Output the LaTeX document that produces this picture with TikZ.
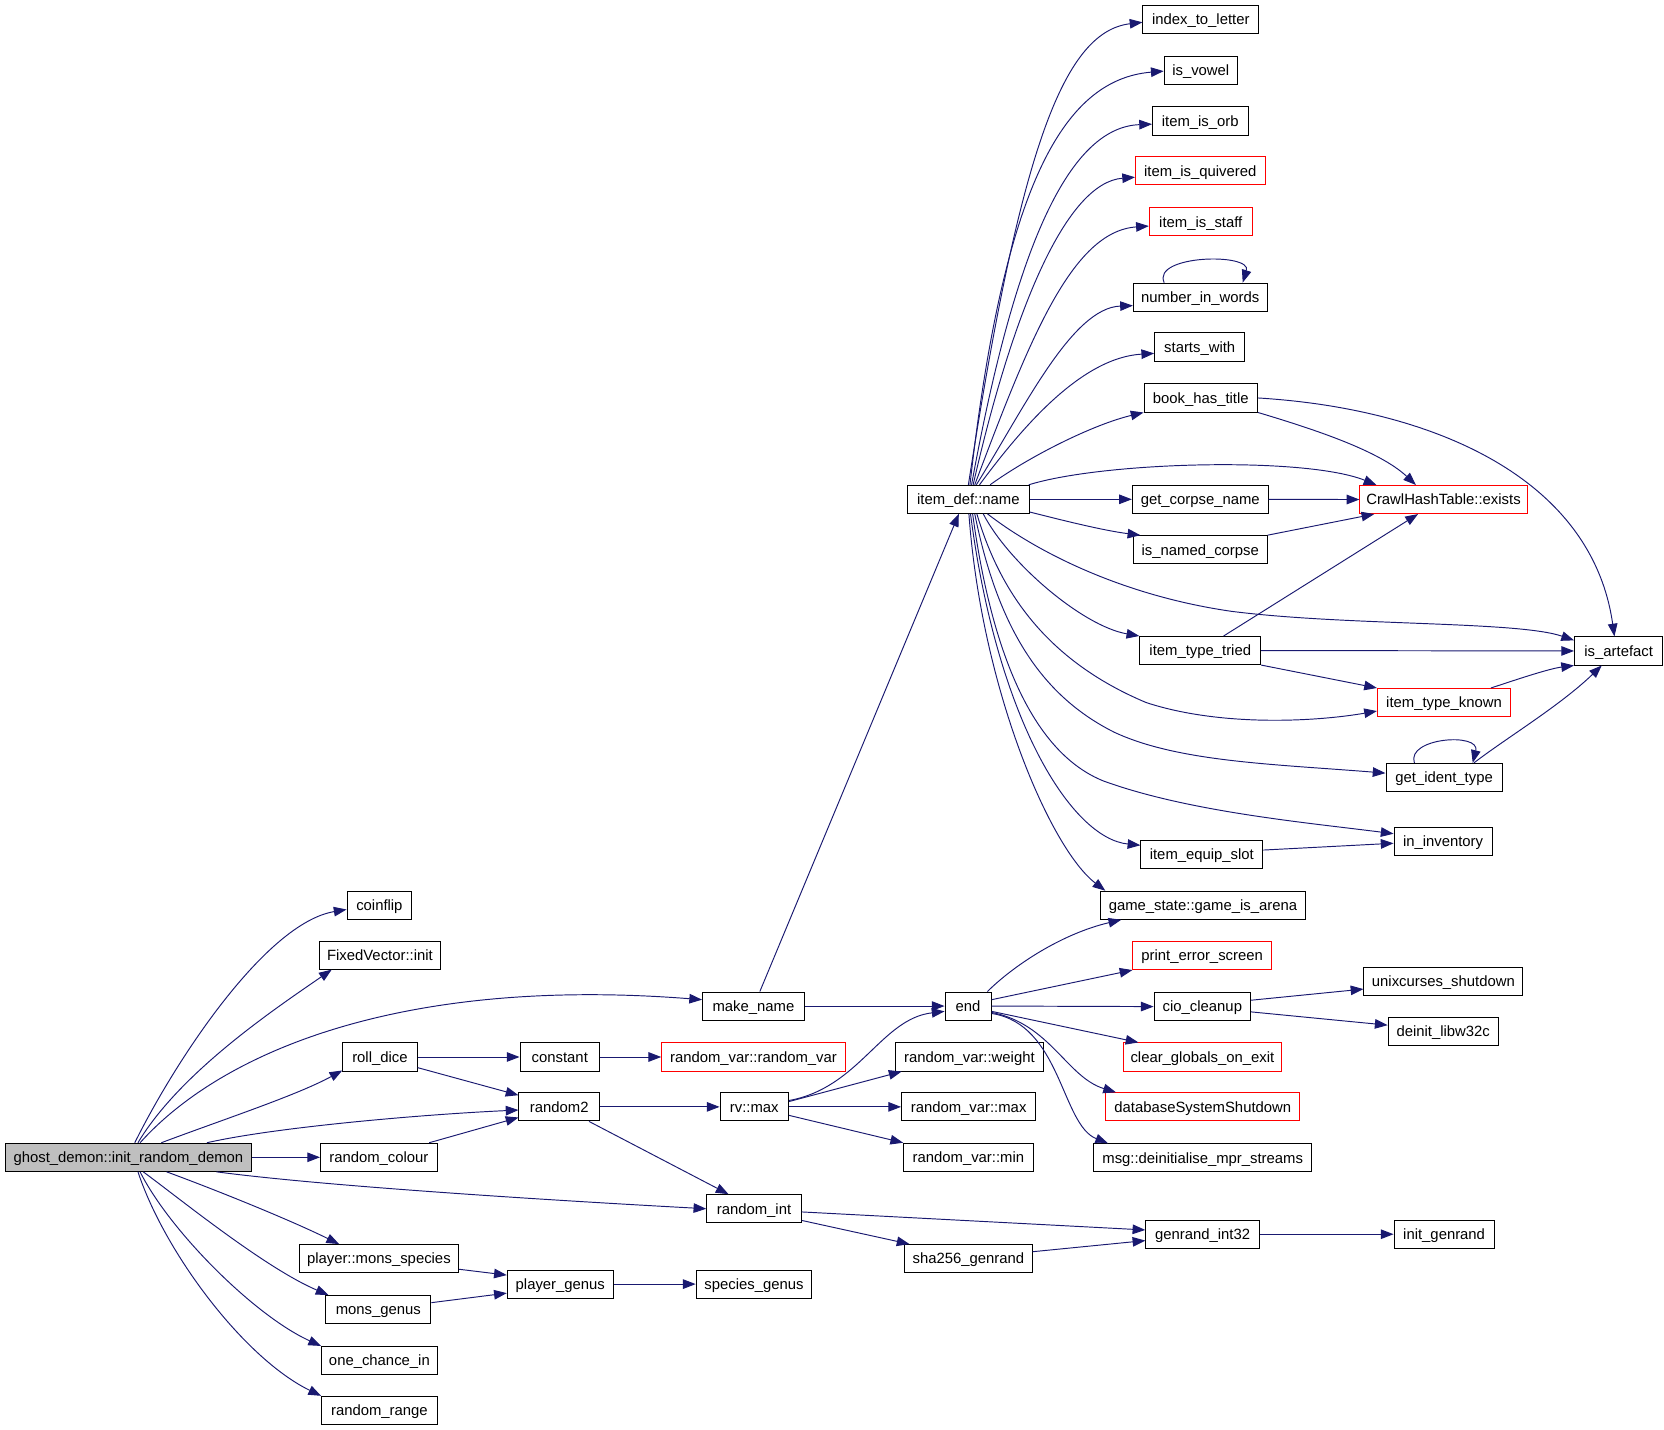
\documentclass[tikz,border=0pt]{standalone}
\usepackage{fontspec}
\setmainfont{Liberation Sans}
\usetikzlibrary{arrows.meta,positioning}
\definecolor{callblue}{RGB}{25,25,112}
\definecolor{rootgray}{RGB}{191,191,191}

\begin{document}
\begin{tikzpicture}[x=1pt, y=-1pt,
    fn/.style={draw=black, line width=0.9pt, rectangle, inner sep=0pt, minimum height=26.5pt,
        text height=11pt, text depth=1pt, font=\fontsize{14}{16}\selectfont},
    fnred/.style={fn, draw=red},
    fnroot/.style={fn, fill=rootgray},
    call/.style={draw=callblue, line width=0.9pt, -{Triangle[length=12pt,width=9pt]}}]
            \useasboundingbox (0,0) rectangle (1568,1347);

            % Caller
            \node[fnroot, minimum width=232pt] (ghost) at (121,1090.5) {ghost\_demon::init\_random\_demon};

            % Functions, first column
            \node[fn, minimum width=61pt] (coinflip) at (357.5,853) {coinflip};
            \node[fn, minimum width=114pt] (fvinit) at (358,900) {FixedVector::init};
            \node[fn, minimum width=70pt] (rolldice) at (358,996) {roll\_dice};
            \node[fn, minimum width=110pt] (randcolour) at (357,1090.5) {random\_colour};
            \node[fn, minimum width=150pt] (monsspecies) at (357,1186) {player::mons\_species};
            \node[fn, minimum width=99pt] (monsgenus) at (356.5,1234) {mons\_genus};
            \node[fn, minimum width=109pt] (onechance) at (357.5,1282) {one\_chance\_in};
            \node[fn, minimum width=109pt] (randrange) at (357.5,1329) {random\_range};

            % Functions, second and third column
            \node[fn, minimum width=75pt] (constant) at (527.5,996) {constant};
            \node[fn, minimum width=76pt] (random2) at (527,1043) {random2};
            \node[fn, minimum width=100pt] (playergenus) at (528,1210) {player\_genus};
            \node[fn, minimum width=96pt] (makename) at (710,948) {make\_name};
            \node[fnred, minimum width=173pt] (rvrandomvar) at (710,996) {random\_var::random\_var};
            \node[fn, minimum width=64.5pt] (rvmax) at (710.75,1043) {rv::max};
            \node[fn, minimum width=89pt] (randint) at (710.5,1139) {random\_int};
            \node[fn, minimum width=109pt] (speciesgenus) at (710.5,1210) {species\_genus};

            % Functions, fourth column
            \node[fn, minimum width=115pt] (itemdef) at (912.5,470.5) {item\_def::name};
            \node[fn, minimum width=43.5pt] (endfn) at (912.25,948) {end};
            \node[fn, minimum width=139pt] (rvweight) at (913.5,996) {random\_var::weight};
            \node[fn, minimum width=126.5pt] (rvmaxvar) at (912.75,1043) {random\_var::max};
            \node[fn, minimum width=122pt] (rvmin) at (912.5,1090.5) {random\_var::min};
            \node[fn, minimum width=120pt] (sha) at (912.5,1186) {sha256\_genrand};

            % Functions, fifth column
            \node[fn, minimum width=109pt] (indexletter) at (1131.5,18) {index\_to\_letter};
            \node[fn, minimum width=69pt] (isvowel) at (1131.5,66) {is\_vowel};
            \node[fn, minimum width=90pt] (isorb) at (1131,114) {item\_is\_orb};
            \node[fnred, minimum width=122pt] (isquiv) at (1131,161) {item\_is\_quivered};
            \node[fnred, minimum width=97pt] (isstaff) at (1131.5,209) {item\_is\_staff};
            \node[fn, minimum width=126pt] (numwords) at (1131,280) {number\_in\_words};
            \node[fn, minimum width=85pt] (startswith) at (1130.5,327) {starts\_with};
            \node[fn, minimum width=107pt] (booktitle) at (1131.5,375) {book\_has\_title};
            \node[fn, minimum width=128pt] (corpsename) at (1131,470.5) {get\_corpse\_name};
            \node[fn, minimum width=126pt] (namedcorpse) at (1131,518) {is\_named\_corpse};
            \node[fn, minimum width=114pt] (typetried) at (1131,613) {item\_type\_tried};
            \node[fn, minimum width=115pt] (equipslot) at (1132.5,805) {item\_equip\_slot};
            \node[fn, minimum width=193pt] (arena) at (1133.5,853) {game\_state::game\_is\_arena};
            \node[fnred, minimum width=130.5pt] (errscreen) at (1132.8,900.4) {print\_error\_screen};
            \node[fn, minimum width=91pt] (ciocleanup) at (1133,948.5) {cio\_cleanup};
            \node[fnred, minimum width=149.6pt] (clearglobals) at (1133,996) {clear\_globals\_on\_exit};
            \node[fnred, minimum width=182.7pt] (dbshutdown) at (1133.4,1043) {databaseSystemShutdown};
            \node[fn, minimum width=205.5pt] (mprstreams) at (1133.3,1091) {msg::deinitialise\_mpr\_streams};
            \node[fn, minimum width=107pt] (genrand) at (1133.2,1163) {genrand\_int32};

            % Functions, sixth and seventh column
            \node[fnred, minimum width=157.5pt] (crawlexists) at (1360.2,470.7) {CrawlHashTable::exists};
            \node[fnred, minimum width=125.5pt] (typeknown) at (1360.7,662) {item\_type\_known};
            \node[fn, minimum width=109.5pt] (identtype) at (1360.75,732.5) {get\_ident\_type};
            \node[fn, minimum width=92.4pt] (ininv) at (1359.8,792.6) {in\_inventory};
            \node[fn, minimum width=149.8pt] (unixshut) at (1360.1,925) {unixcurses\_shutdown};
            \node[fn, minimum width=104pt] (deinitw32) at (1360,972) {deinit\_libw32c};
            \node[fn, minimum width=94.4pt] (initgenrand) at (1360.8,1163) {init\_genrand};
            \node[fn, minimum width=83.3pt] (artefact) at (1525.3,613.4) {is\_artefact};

            % Calls from ghost_demon::init_random_demon
            \draw[call] ([xshift=6pt]ghost.north) .. controls (165,1000) and (250,870) .. ([yshift=-4pt]coinflip.west);
            \draw[call] ([xshift=9pt]ghost.north) .. controls (170,1010) and (260,950) .. ([xshift=12pt]fvinit.south west);
            \draw[call] ([xshift=11pt]ghost.north) .. controls (210,990) and (380,920) .. ([yshift=6pt]makename.west);
            \draw[call] ([xshift=31pt]ghost.north) .. controls (210,1055) and (280,1032) .. ([yshift=1pt]rolldice.south west);
            \draw[call] ([xshift=74pt]ghost.north) .. controls (260,1062) and (400,1050) .. ([yshift=-3pt]random2.west);
            \draw[call] (ghost.east) -- (randcolour.west);
            \draw[call] ([xshift=83pt]ghost.south) .. controls (300,1117) and (500,1130) .. (randint.west);
            \draw[call] ([xshift=36pt]ghost.south) .. controls (200,1120) and (270,1148) .. ([xshift=38pt]monsspecies.north west);
            \draw[call] ([xshift=14pt]ghost.south) .. controls (170,1130) and (250,1195) .. ([xshift=3pt]monsgenus.north west);
            \draw[call] ([xshift=11pt]ghost.south) .. controls (160,1160) and (240,1240) .. (onechance.north west);
            \draw[call] ([xshift=9pt]ghost.south) .. controls (155,1180) and (230,1280) .. (randrange.north west);

            % Calls, second and third level
            \draw[call] (rolldice.east) -- (constant.west);
            \draw[call] ([yshift=-10pt]rolldice.east) -- ([yshift=11pt]random2.west);
            \draw[call] ([xshift=-8pt]randcolour.north east) -- ([yshift=-10pt]random2.west);
            \draw[call] (constant.east) -- (rvrandomvar.west);
            \draw[call] (random2.east) -- (rvmax.west);
            \draw[call] ([xshift=28pt]random2.south) -- ([xshift=-24pt]randint.north);
            \draw[call] ([yshift=-10pt]monsspecies.east) -- ([yshift=8.5pt]playergenus.west);
            \draw[call] ([yshift=6.5pt]monsgenus.east) -- ([yshift=-8.5pt]playergenus.west);
            \draw[call] (playergenus.east) -- (speciesgenus.west);
            \draw[call] ([xshift=6pt]makename.north) -- ([xshift=-9pt]itemdef.south);
            \draw[call] (makename.east) -- (endfn.west);
            \draw[call] ([yshift=6pt]rvmax.east) .. controls (810,1025) and (830,960) .. ([yshift=-5pt]endfn.west);
            \draw[call] ([yshift=5pt]rvmax.east) -- ([xshift=6pt]rvweight.south west);
            \draw[call] (rvmax.east) -- (rvmaxvar.west);
            \draw[call] ([yshift=-8pt]rvmax.east) -- (rvmin.north west);
            \draw[call] ([yshift=-3pt]randint.east) -- ([yshift=4pt]genrand.west);
            \draw[call] ([yshift=-11pt]randint.east) -- ([xshift=5pt]sha.north west);
            \draw[call] ([yshift=6.5pt]sha.east) -- ([yshift=-6pt]genrand.west);
            \draw[call] (genrand.east) -- (initgenrand.west);

            % Calls from end
            \draw[call] ([xshift=-4pt]endfn.north east) .. controls (955,910) and (1000,880) .. ([xshift=20pt]arena.south west);
            \draw[call] ([yshift=6pt]endfn.east) -- (errscreen.south west);
            \draw[call] (endfn.east) -- (ciocleanup.west);
            \draw[call] ([yshift=-5pt]endfn.east) -- ([xshift=15pt]clearglobals.north west);
            \draw[call] ([yshift=-6pt]endfn.east) .. controls (990,965) and (1005,1015) .. ([xshift=10pt]dbshutdown.north west);
            \draw[call] ([yshift=-7pt]endfn.east) .. controls (1000,965) and (1000,1060) .. ([xshift=14pt]mprstreams.north west);
            \draw[call] ([yshift=6pt]ciocleanup.east) -- ([yshift=-7pt]unixshut.west);
            \draw[call] ([yshift=-5pt]ciocleanup.east) -- ([yshift=6pt]deinitw32.west);

            % Calls from item_def::name
            \draw[call] (itemdef.north) .. controls (960,150) and (1000,30) .. ([yshift=-3pt]indexletter.west);
            \draw[call] ([xshift=1.5pt]itemdef.north) .. controls (945,180) and (1000,75) .. ([yshift=-1pt]isvowel.west);
            \draw[call] ([xshift=3pt]itemdef.north) .. controls (955,240) and (1005,120) .. ([yshift=-3pt]isorb.west);
            \draw[call] ([xshift=4.5pt]itemdef.north) .. controls (955,290) and (1005,172) .. ([yshift=-6pt]isquiv.west);
            \draw[call] ([xshift=6pt]itemdef.north) .. controls (970,320) and (1010,218) .. ([yshift=-4pt]isstaff.west);
            \draw[call] ([xshift=7.5pt]itemdef.north) .. controls (965,385) and (1010,290) .. ([yshift=-8pt]numwords.west);
            \draw[call] ([xshift=10.5pt]itemdef.north) .. controls (965,400) and (1020,337) .. ([yshift=-6pt]startswith.west);
            \draw[call] ([xshift=20.5pt]itemdef.north) .. controls (970,430) and (1030,400) .. (booktitle.south west);
            \draw[call] ([xshift=-1pt]itemdef.north east) .. controls (1040,435) and (1230,430) .. ([xshift=16pt]crawlexists.north west);
            \draw[call] (itemdef.east) -- (corpsename.west);
            \draw[call] ([yshift=-12pt]itemdef.east) .. controls (1000,490) and (1040,500) .. ([xshift=7pt]namedcorpse.north west);
            \draw[call] ([xshift=18pt]itemdef.south) .. controls (970,515) and (1050,560) .. (1160,576)
                .. controls (1270,590) and (1430,585) .. ([yshift=10pt]artefact.west);
            \draw[call] ([xshift=14pt]itemdef.south) .. controls (950,530) and (1020,590) .. (typetried.north west);
            \draw[call] ([xshift=8pt]itemdef.south) .. controls (940,550) and (980,620) .. (1080,662)
                .. controls (1150,685) and (1240,680) .. ([yshift=-8pt]typeknown.west);
            \draw[call] ([xshift=6pt]itemdef.south) .. controls (940,590) and (980,655) .. (1050,690)
                .. controls (1110,718) and (1200,720) .. ([yshift=4pt]identtype.west);
            \draw[call] ([xshift=4pt]itemdef.south) .. controls (935,620) and (975,710) .. (1040,736)
                .. controls (1120,765) and (1230,775) .. ([yshift=7pt]ininv.west);
            \draw[call] ([xshift=2pt]itemdef.south) .. controls (940,680) and (1010,790) .. ([yshift=8.5pt]equipslot.west);
            \draw[call] ([xshift=0.5pt]itemdef.south) .. controls (925,650) and (990,800) .. ([xshift=5pt]arena.north west);

            % Calls between the callees of item_def::name
            \draw[call] ([xshift=-34pt]numwords.north) .. controls (1085,240) and (1180,238) .. ([xshift=40pt]numwords.north);
            \draw[call] (booktitle.south east) .. controls (1240,405) and (1300,425) .. ([xshift=-26pt]crawlexists.north);
            \draw[call] (booktitle.east) .. controls (1350,385) and (1500,450) .. ([xshift=-4pt]artefact.north);
            \draw[call] (corpsename.east) -- (crawlexists.west);
            \draw[call] (namedcorpse.north east) -- ([xshift=14pt]crawlexists.south west);
            \draw[call] ([xshift=22pt]typetried.north) -- ([xshift=-24pt]crawlexists.south);
            \draw[call] (typetried.east) -- (artefact.west);
            \draw[call] (typetried.south east) -- (typeknown.north west);
            \draw[call] ([xshift=-19pt]typeknown.north east) .. controls (1430,640) and (1460,630) .. (artefact.south west);
            \draw[call] ([xshift=-28pt]identtype.north) .. controls (1325,695) and (1395,690) .. ([xshift=27pt]identtype.north);
            \draw[call] ([xshift=-27pt]identtype.north east) .. controls (1420,695) and (1470,665) .. ([xshift=-16pt]artefact.south);
            \draw[call] ([yshift=4pt]equipslot.east) -- ([yshift=-2pt]ininv.west);
        \end{tikzpicture}
\end{document}
